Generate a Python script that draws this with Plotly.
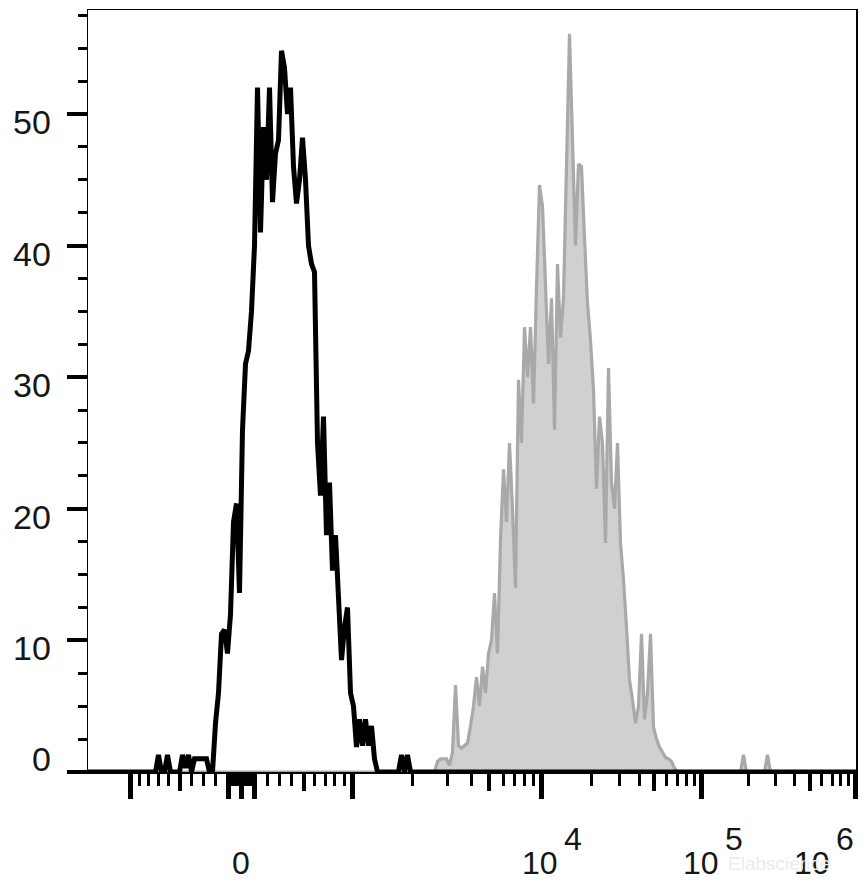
import numpy as np
import plotly.graph_objects as go

# ---------------- data (counts per display bin, 256 bins over the logicle display) ----------------
N_BINS = 256

black_first_bin = 20
black_counts = [0, 0, 0, 1.3, 0, 0, 1.3, 0, 0, 0,
                0, 1.3, 0.3, 1.3, 0, 1, 1, 1, 1, 1,
                0, 0, 3.7, 6, 10.5, 10.8, 9, 12, 19, 20.4,
                13.6, 26, 31, 32, 35, 40, 52, 41, 49, 45,
                52, 43.3, 47, 48, 54.8, 53.5, 50, 52, 46, 43.2,
                45, 48.2, 45, 40, 38.6, 38, 25, 21, 27, 18,
                22, 15.3, 18, 12.5, 8.5, 11, 12.5, 6, 5, 1.9,
                4, 2, 4, 2, 3.5, 1, 0, 0, 0, 0,
                0, 0, 0, 0, 1.3, 0, 1.3, 0]

grey_first_bin = 115
grey_counts = [0, 0.8, 1, 1, 1, 0.5, 1.5, 6.6, 2, 1.8,
               2, 2.2, 3.5, 5, 7.2, 5, 8, 6, 9, 10,
               13.6, 9, 17.6, 23, 19, 25, 20, 14, 29.8, 25,
               33.8, 30, 33.8, 28, 36.8, 44.6, 43, 37.6, 31, 36,
               26, 38.6, 33, 36, 45, 56.1, 48, 40, 46.2, 46,
               40.6, 35.6, 32.8, 29, 21.5, 27, 25, 17.4, 30.7, 22,
               20, 25, 17.4, 14.6, 11, 7, 5.5, 3.7, 5, 10.5,
               4, 6, 10.5, 3.4, 2.5, 1.9, 1.5, 1.1, 1, 0.8,
               0.3, 0]
grey_tail_bins = [218, 226]
grey_tail_counts = [1.3, 1.3]

# axis tick values (fluorescence units) and labels
x_major_vals = [-1000, -100, 0, 100, 1000, 1e4, 1e5, 1e6]
x_medium_vals = [-500, 500, 5000, 5e4, 5e5]
x_minor_vals = ([-900, -800, -700, -600, -400, -300, -200]
                + [-90, -80, -70, -60, -50, -40, -30, -20, -10, 10, 20, 30, 40, 50, 60, 70, 80, 90]
                + [200, 300, 400, 600, 700, 800, 900]
                + [2000, 3000, 4000, 6000, 7000, 8000, 9000]
                + [2e4, 3e4, 4e4, 6e4, 7e4, 8e4, 9e4]
                + [2e5, 3e5, 4e5, 6e5, 7e5, 8e5, 9e5])
x_label_vals = [0, 1e4, 1e5, 1e6]
x_label_base = ["0", "10", "10", "10"]
x_label_exp = ["", "4", "5", "6"]

y_tick_vals = [0, 10, 20, 30, 40, 50]
y_tick_text = ["0", "10", "20", "30", "40", "50"]

# ---------------- logicle (biexponential) display transform ----------------
T, M, W = 1e6, 5.0, 1.0


def solve_p(w):
    lo, hi = 1.0000001, 1000.0
    for _ in range(200):
        mid = 0.5 * (lo + hi)
        if 2 * mid * np.log10(mid) / (mid + 1) < w:
            lo = mid
        else:
            hi = mid
    return 0.5 * (lo + hi)


P = solve_p(W)


def logicle_S(x):
    x = np.asarray(x, dtype=float)
    u = x - W
    s = np.sign(u)
    a = np.abs(u)
    return s * T * 10 ** (-(M - W)) * (10 ** a - P ** 2 * 10 ** (-a / P) + P ** 2 - 1)


def to_display(v):
    v = np.atleast_1d(np.asarray(v, dtype=float))
    lo = np.full_like(v, -1.0)
    hi = np.full_like(v, M + 1.0)
    for _ in range(80):
        mid = 0.5 * (lo + hi)
        below = logicle_S(mid) < v
        lo = np.where(below, mid, lo)
        hi = np.where(below, hi, mid)
    return 0.5 * (lo + hi)


bin_w = M / N_BINS
centers = (np.arange(N_BINS) + 0.5) * bin_w

black_y = np.zeros(N_BINS)
black_y[black_first_bin:black_first_bin + len(black_counts)] = black_counts
grey_y = np.zeros(N_BINS)
grey_y[grey_first_bin:grey_first_bin + len(grey_counts)] = grey_counts
for b, c in zip(grey_tail_bins, grey_tail_counts):
    grey_y[b] = c

x_full = np.concatenate([[0.0], centers, [M]])
black_full = np.concatenate([[0.0], black_y, [0.0]])
grey_full = np.concatenate([[0.0], grey_y, [0.0]])

FONT = "Liberation Sans, Arial, Helvetica, sans-serif"
TXT = "#161616"

fig = go.Figure()
fig.add_trace(go.Scatter(x=x_full, y=grey_full, mode="lines",
                         line=dict(color="#a9a9a9", width=3.2),
                         fill="tozeroy", fillcolor="#d0d0d0",
                         hoverinfo="skip", showlegend=False, xaxis="x", yaxis="y"))
fig.add_trace(go.Scatter(x=x_full, y=black_full, mode="lines",
                         line=dict(color="#000000", width=5),
                         hoverinfo="skip", showlegend=False, xaxis="x2", yaxis="y"))

annotations = []
for v, t in zip(y_tick_vals, y_tick_text):
    if v == 0:
        annotations.append(dict(x=0, xref="paper", y=v, yref="y", text=t, showarrow=False,
                                xanchor="right", yanchor="bottom", xshift=-35, yshift=-8,
                                font=dict(family=FONT, size=34, color=TXT)))
    else:
        annotations.append(dict(x=0, xref="paper", y=v, yref="y", text=t, showarrow=False,
                                xanchor="right", yanchor="middle", xshift=-35, yshift=-8,
                                font=dict(family=FONT, size=34, color=TXT)))
x_label_disp = to_display(x_label_vals)
for d, base, ex in zip(x_label_disp, x_label_base, x_label_exp):
    shift = -43 if ex == "6" else 0
    annotations.append(dict(x=d, xref="x", y=0, yref="paper", text=base, showarrow=False,
                            xanchor="center", yanchor="middle", xshift=shift - 1, yshift=-91,
                            font=dict(family=FONT, size=32, color=TXT)))
    if ex:
        annotations.append(dict(x=d, xref="x", y=0, yref="paper", text=ex, showarrow=False,
                                xanchor="center", yanchor="middle", xshift=shift + 32, yshift=-67,
                                font=dict(family=FONT, size=32, color=TXT)))
annotations.append(dict(x=1, xref="paper", y=0, yref="paper", text="Elabscience", showarrow=False,
                        xanchor="right", yanchor="middle", xshift=-24, yshift=-91,
                        font=dict(family=FONT, size=19, color="#ececec")))

axis_common = dict(showgrid=False, zeroline=False, range=[0, M], color="#000000")

fig.update_layout(
    width=866, height=891,
    margin=dict(l=88, r=10, t=8, b=119),
    paper_bgcolor="white", plot_bgcolor="white",
    showlegend=False, hovermode=False,
    xaxis=dict(**axis_common, showline=True, linecolor="#000000", linewidth=1.5, mirror=True,
               tickmode="array", tickvals=to_display(x_major_vals), ticks="outside",
               ticklen=25, tickwidth=5, tickcolor="#000000", showticklabels=False,
               minor=dict(tickmode="array", tickvals=to_display(x_minor_vals), ticks="outside",
                          ticklen=12, tickwidth=3, tickcolor="#000000")),
    xaxis2=dict(**axis_common, overlaying="x", anchor="y", side="bottom", showline=False,
                tickmode="array", tickvals=to_display(x_medium_vals), ticks="outside",
                ticklen=18, tickwidth=4, tickcolor="#000000", showticklabels=False),
    yaxis=dict(range=[0, 57.9], showgrid=False, zeroline=False, showline=True,
               linecolor="#000000", linewidth=1.5, mirror=True,
               tickmode="array", tickvals=y_tick_vals, ticks="outside", ticklen=20, tickwidth=4,
               tickcolor="#000000", showticklabels=False,
               minor=dict(dtick=2.5, tick0=0, ticks="outside", ticklen=9, tickwidth=3,
                          tickcolor="#000000")),
    annotations=annotations,
)

fig.write_html("out.html", config={"displayModeBar": False, "staticPlot": True},
               post_script="document.body.style.margin='0';document.body.style.overflow='hidden';")
